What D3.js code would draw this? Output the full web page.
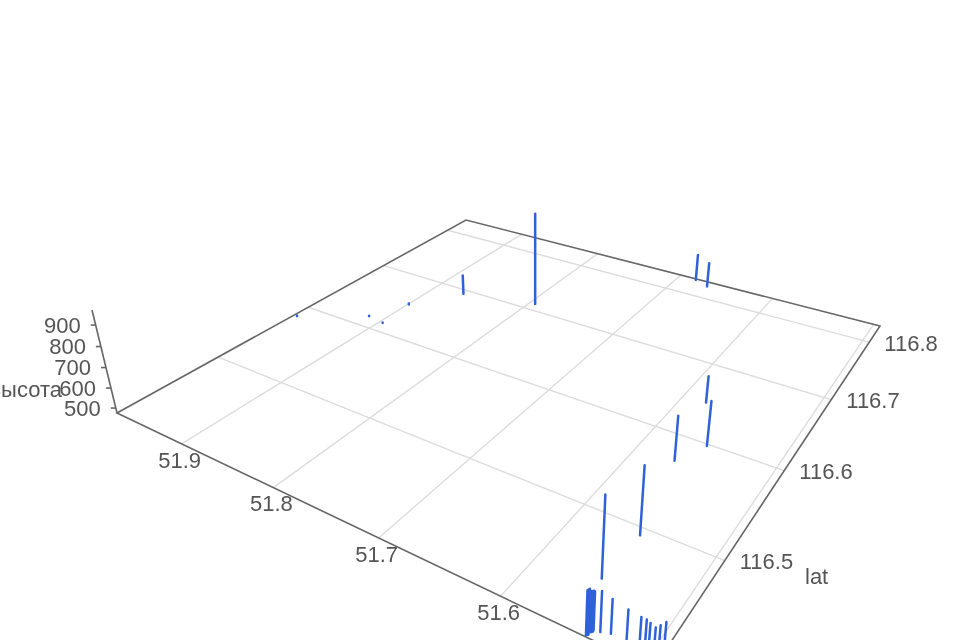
<!DOCTYPE html>
<html>
<head>
<meta charset="utf-8">
<script src="https://cdn.jsdelivr.net/npm/d3@7"></script>
<style>
body { margin: 0; background: #fff; overflow: hidden; }
svg { display: block; filter: blur(0.5px); }
text { font-family: "Liberation Sans", Arial, sans-serif; font-size: 22px; fill: #555; }
</style>
</head>
<body>
<div id="chart"></div>
<script>
// Values
var lon = [51.794, 51.682, 51.666, 51.580, 51.555, 51.568, 51.552, 51.554, 51.867, 51.899, 51.916, 51.896, 51.975,
    51.539, 51.5385, 51.538, 51.538, 51.5375, 51.537, 51.537, 51.533, 51.527, 51.517, 51.509, 51.506, 51.504, 51.501, 51.499, 51.497];
var lat = [116.711, 116.830, 116.823, 116.647, 116.598, 116.571, 116.493, 116.449, 116.693, 116.651, 116.616, 116.613, 116.583,
    116.408, 116.4085, 116.409, 116.411, 116.4115, 116.412, 116.413, 116.414, 116.416, 116.417, 116.418, 116.419, 116.420, 116.421, 116.423, 116.426];
var alt = [973, 623, 612, 608, 689, 687, 780, 827, 582, 480, 478, 478, 478,
    662, 664, 666, 646, 646, 646, 638, 646, 620, 600, 587, 580, 567, 552, 556, 560];

var lonTicks = [51.9, 51.8, 51.7, 51.6, 51.5];
var latTicks = [116.5, 116.6, 116.7, 116.8];
var altTicks = [500, 600, 700, 800, 900];

var width = 960;
var height = 640;

// Floor of the box on screen, and where the vertical lines converge
var corners = [[117, 413], [653, 669], [880, 326], [466, 220]];
var nadir = [535, 2136];
var depth = -25 / 443;

var lonScale = d3.scaleLinear().domain([51.979, 51.494]).range([0, 1]);
var latScale = d3.scaleLinear().domain([116.407, 116.832]).range([0, 1]);
var altScale = d3.scaleLinear().domain([475, 969]).range([0, 1]);

// Square to quad homography, plus a column for height
var p = corners;
var dx1 = p[1][0] - p[2][0], dx2 = p[3][0] - p[2][0], sx = p[0][0] - p[1][0] + p[2][0] - p[3][0];
var dy1 = p[1][1] - p[2][1], dy2 = p[3][1] - p[2][1], sy = p[0][1] - p[1][1] + p[2][1] - p[3][1];
var den = dx1 * dy2 - dx2 * dy1;
var g = (sx * dy2 - dx2 * sy) / den;
var h = (dx1 * sy - sx * dy1) / den;
var a = p[1][0] - p[0][0] + g * p[1][0], b = p[3][0] - p[0][0] + h * p[3][0];
var d = p[1][1] - p[0][1] + g * p[1][1], e = p[3][1] - p[0][1] + h * p[3][1];

function project(lo, la, al) {
    var u = lonScale(lo), v = latScale(la), w = altScale(al);
    var q = g * u + h * v + 1 + depth * w;
    return [
        (a * u + b * v + p[0][0] + depth * w * nadir[0]) / q,
        (d * u + e * v + p[0][1] + depth * w * nadir[1]) / q
    ];
}

var line = d3.line();
var lonMin = lonScale.domain()[1], lonMax = lonScale.domain()[0];
var latMin = latScale.domain()[0], latMax = latScale.domain()[1];
var altMin = altScale.domain()[0], altMax = altScale.domain()[1];

var svg = d3.select("#chart").append("svg")
    .attr("width", width)
    .attr("height", height);

// Grid on the floor
var grid = svg.append("g").attr("fill", "none").attr("stroke", "#dcdcdc").attr("stroke-width", 1.4);
lonTicks.forEach(function(t) {
    grid.append("path").attr("d", line([project(t, latMin, altMin), project(t, latMax, altMin)]));
});
latTicks.forEach(function(t) {
    grid.append("path").attr("d", line([project(lonMax, t, altMin), project(lonMin, t, altMin)]));
});

// Box edges and the height axis
var axes = svg.append("g").attr("fill", "none").attr("stroke", "#666").attr("stroke-width", 1.6);
axes.append("path").attr("d", line([
    project(lonMax, latMin, altMin), project(lonMin, latMin, altMin),
    project(lonMin, latMax, altMin), project(lonMax, latMax, altMin)
]) + "Z");
axes.append("path").attr("d", line([project(lonMax, latMin, altMin), project(lonMax, latMin, altMax)]));
altTicks.forEach(function(t) {
    var pt = project(lonMax, latMin, t);
    axes.append("path").attr("d", line([[pt[0] - 5, pt[1]], pt]));
});

// Height bars
svg.append("g").selectAll("path")
    .data(lon)
    .enter().append("path")
    .attr("d", function(dd, i) {
        return line([project(lon[i], lat[i], altMin), project(lon[i], lat[i], alt[i])]);
    })
    .attr("stroke", "#2f62d9")
    .attr("stroke-width", 2.5)
    .attr("stroke-linecap", "round")
    .attr("fill", "none");

// Tick labels
svg.append("g").selectAll("text")
    .data(lonTicks.slice(0, 4))
    .enter().append("text")
    .attr("x", function(t) { return project(t, latMin, altMin)[0] - 2; })
    .attr("y", function(t) { return project(t, latMin, altMin)[1] + 18; })
    .attr("text-anchor", "middle")
    .attr("dominant-baseline", "middle")
    .text(function(t) { return t.toFixed(1); });

svg.append("g").selectAll("text")
    .data(latTicks)
    .enter().append("text")
    .attr("x", function(t) { return project(lonMin, t, altMin)[0] + 15; })
    .attr("y", function(t) { return project(lonMin, t, altMin)[1] + 3; })
    .attr("dominant-baseline", "middle")
    .text(function(t) { return t.toFixed(1); });

svg.append("g").selectAll("text")
    .data(altTicks)
    .enter().append("text")
    .attr("x", function(t) { return project(lonMax, latMin, t)[0] - 15; })
    .attr("y", function(t) { return project(lonMax, latMin, t)[1] + 2; })
    .attr("text-anchor", "end")
    .attr("dominant-baseline", "middle")
    .text(function(t) { return t; });

// Axis names
svg.append("text").attr("x", 805).attr("y", 578).attr("dominant-baseline", "middle").text("lat");
svg.append("text").attr("x", 62).attr("y", 391).attr("text-anchor", "end").attr("dominant-baseline", "middle").text("высота");
</script>
</body>
</html>
